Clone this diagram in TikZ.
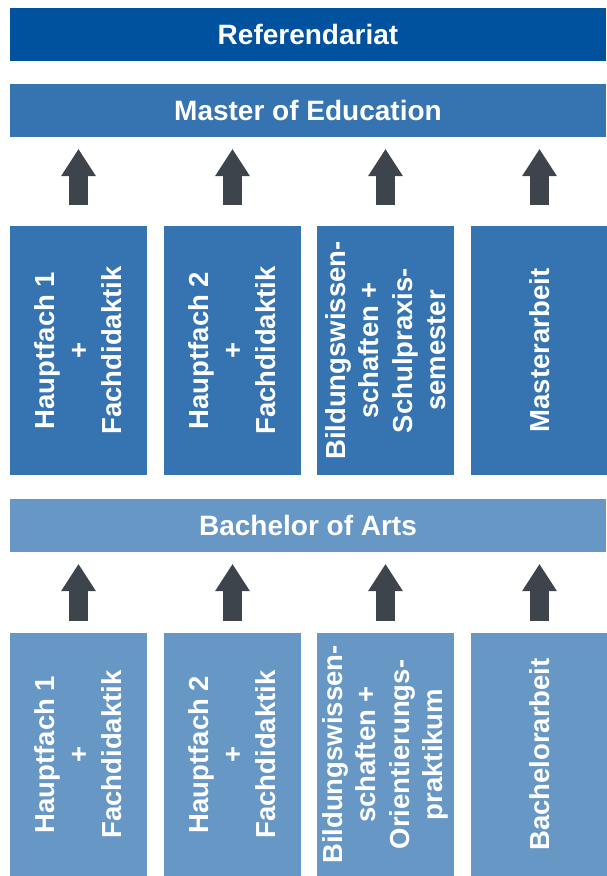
\documentclass[tikz,border=0pt]{standalone}
\usepackage{fontspec}
\setmainfont{Liberation Sans}
\usepackage{tikz}
\usetikzlibrary{arrows.meta}
\definecolor{refblue}{HTML}{00519E}
\definecolor{mablue}{HTML}{3573B1}
\definecolor{bablue}{HTML}{6797C5}
\definecolor{arrowgray}{HTML}{3E444C}

\begin{document}
\begin{tikzpicture}[x=1pt, y=-1pt,
  bar/.style={text=white, inner sep=0pt, minimum width=596pt, minimum height=53pt,
    font=\bfseries\fontsize{28}{34}\selectfont},
  modul/.style={text=white, inner sep=0pt, rotate=90, align=center, minimum height=137pt,
    font=\bfseries\fontsize{27.5}{33.5}\selectfont},
  upar/.style={color=arrowgray, line width=19pt, -{Triangle[length=27pt, width=35pt, line width=0pt 0]}}]
  \useasboundingbox (0,0) rectangle (606,876);
  % top bars
  \node[bar, fill=refblue] (ref) at (308,34.5) {Referendariat};
  \node[bar, fill=mablue] (master) at (308,110.5) {Master of Education};
  \node[bar, fill=bablue] (bachelor) at (308,525.5) {Bachelor of Arts};
  % master modules
  \node[modul, fill=mablue, minimum width=249pt] (mh1) at (78.5,350.5) {Hauptfach 1\\+\\Fachdidaktik};
  \node[modul, fill=mablue, minimum width=249pt] (mh2) at (232.5,350.5) {Hauptfach 2\\+\\Fachdidaktik};
  \node[modul, fill=mablue, minimum width=249pt] (mbw) at (385.5,350.5) {Bildungswissen-\\schaften +\\Schulpraxis-\\semester};
  \node[modul, fill=mablue, minimum width=249pt] (marb) at (539.5,350.5) {Masterarbeit};
  % bachelor modules
  \node[modul, fill=bablue, minimum width=243pt] (bh1) at (78.5,754.5) {Hauptfach 1\\+\\Fachdidaktik};
  \node[modul, fill=bablue, minimum width=243pt] (bh2) at (232.5,754.5) {Hauptfach 2\\+\\Fachdidaktik};
  \node[modul, fill=bablue, minimum width=243pt] (bbw) at (385.5,754.5) {Bildungswissen-\\schaften +\\Orientierungs-\\praktikum};
  \node[modul, fill=bablue, minimum width=243pt] (barb) at (539.5,754.5) {Bachelorarbeit};

  \path[upar, shorten <=21pt, shorten >=12pt]
  (mh1.east) edge (mh1.east |- master.south)
  (mh2.east) edge (mh2.east |- master.south)
  (mbw.east) edge (mbw.east |- master.south)
  (marb.east) edge (marb.east |- master.south)
  ;
  \path[upar, shorten <=12pt, shorten >=12pt]
  (bh1.east) edge (bh1.east |- bachelor.south)
  (bh2.east) edge (bh2.east |- bachelor.south)
  (bbw.east) edge (bbw.east |- bachelor.south)
  (barb.east) edge (barb.east |- bachelor.south)
  ;
\end{tikzpicture}
\end{document}
